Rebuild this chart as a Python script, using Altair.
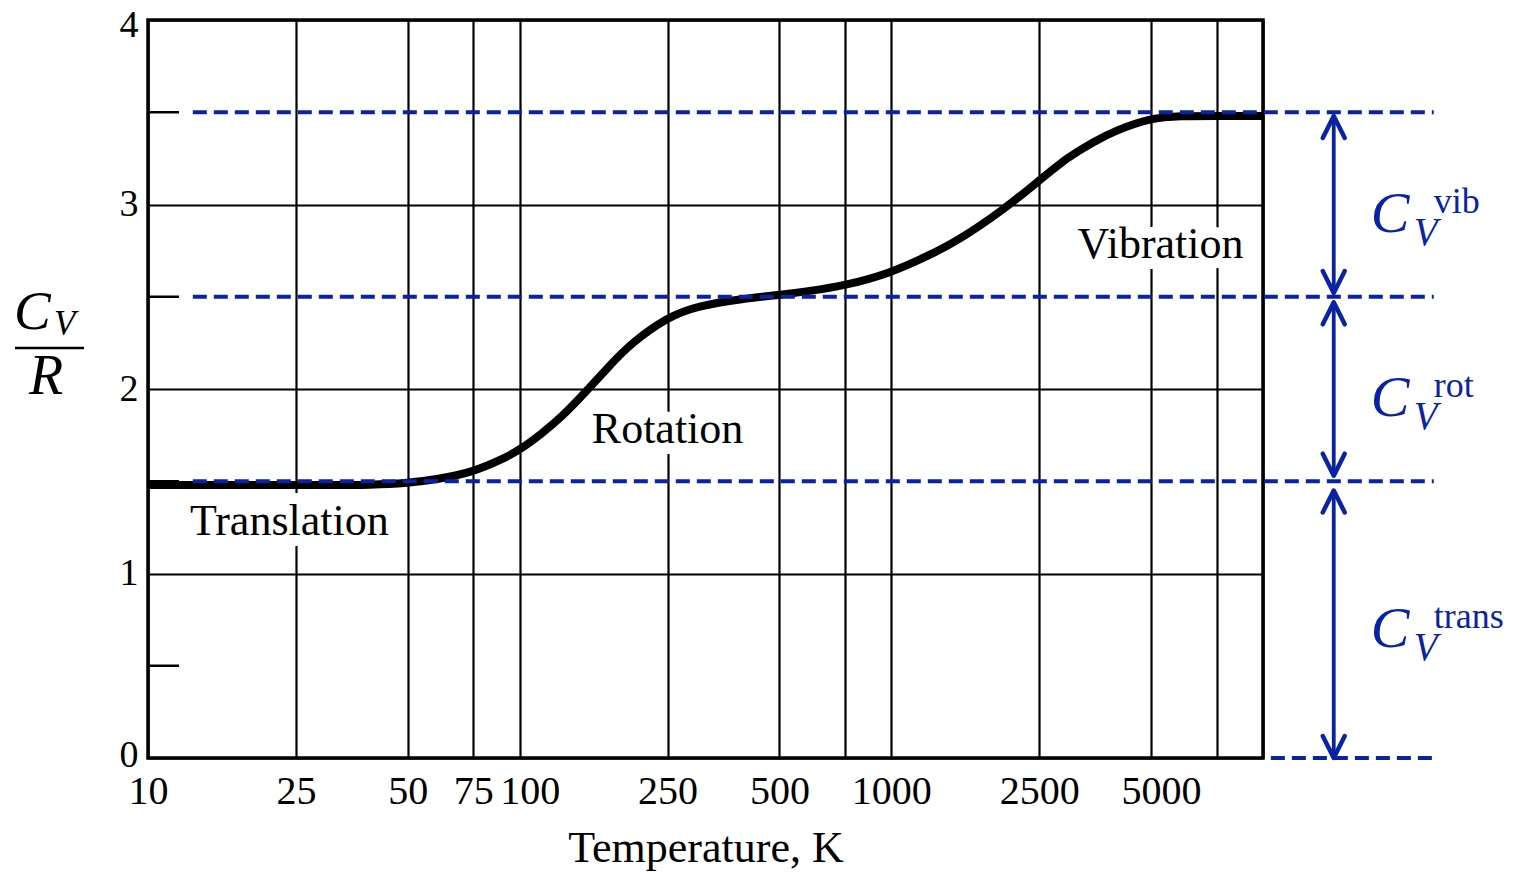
import altair as alt
import pandas as pd

# ---- data ----
temps = [10, 20, 30, 40, 50, 60, 75, 90, 100, 115, 130, 150, 175, 200, 250, 300,
         400, 500, 600, 750, 1000, 1250, 1500, 2000, 2500, 3000, 3500, 4000,
         5000, 6000, 7500, 10000]
cv_r = [1.48, 1.48, 1.48, 1.48, 1.49, 1.51, 1.55, 1.62, 1.67, 1.76, 1.85, 1.98,
        2.13, 2.25, 2.39, 2.45, 2.49, 2.51, 2.53, 2.56, 2.63, 2.72, 2.80, 2.97,
        3.13, 3.26, 3.34, 3.40, 3.47, 3.48, 3.48, 3.48]

x_ticks = [10, 25, 50, 75, 100, 250, 500, 750, 1000, 2500, 5000, 7500, 10000]
y_ticks = [0, 1, 2, 3, 4]
y_minor = [0.5, 1.5, 2.5, 3.5]

levels = [3.5, 2.5, 1.5, 0.0]
level_start = [13.2, 13.2, 13.2, 10500]
level_end = [28800, 28800, 28800, 29500]

arrow_x = 15500
arrow_top = [3.48, 2.47, 1.45]
arrow_bottom = [2.52, 1.53, 0.0]
arrow_mid = [3.0, 2.0, 0.75]
arrow_sup = ["vib", "rot", "trans"]

region_names = ["Translation", "Rotation", "Vibration"]
region_x = [24, 250, 5300]
region_y = [1.21, 1.71, 2.71]

BLUE = "#0A23A2"
FONT = "Liberation Serif"

xs = alt.Scale(type="log", domain=[10, 10000], nice=False)
ys = alt.Scale(domain=[0, 4], nice=False, zero=False)

curve_df = pd.DataFrame({"T": temps, "cv": cv_r})
levels_df = pd.DataFrame({"y": levels, "x1": level_start, "x2": level_end})
arrows_df = pd.DataFrame({"x": [arrow_x] * 3, "top": arrow_top, "bottom": arrow_bottom,
                          "mid": arrow_mid, "sup": arrow_sup, "C": ["C"] * 3, "V": ["V"] * 3})
regions_df = pd.DataFrame({"x": region_x, "y": region_y, "name": region_names})
minor_df = pd.DataFrame({"y": y_minor})
one = pd.DataFrame({"a": [0]})

x_axis = alt.Axis(
    values=x_ticks, grid=True, gridColor="black", gridWidth=2.2, gridOpacity=1,
    ticks=False, domain=False,
    labelExpr="(datum.value == 750 || datum.value == 7500 || datum.value == 10000) ? '' : format(datum.value, 'd')",
    labelFont=FONT, labelFontSize=40, labelColor="black", labelPadding=13,
    labelOverlap=False, labelFlush=False,
    labelOffset={"condition": {"test": "datum.value == 100 || datum.value == 5000", "value": 10}, "value": 0},
    title="Temperature, K", titleFont=FONT, titleFontSize=44, titleFontWeight="normal",
    titleColor="black", titlePadding=15,
)
y_axis = alt.Axis(
    values=y_ticks, grid=True, gridColor="black", gridWidth=2.2, gridOpacity=1,
    ticks=False, domain=False, labelFont=FONT, labelFontSize=38, labelColor="black",
    labelPadding=10, labelOverlap=False, labelFlush=False, title=None,
    labelOffset={"condition": [{"test": "datum.value == 0", "value": -3},
                               {"test": "datum.value == 4", "value": 5}],
                 "value": 0},
)


def X(field):
    return alt.X(field, type="quantitative", scale=xs, axis=x_axis)


def Y(field):
    return alt.Y(field, type="quantitative", scale=ys, axis=y_axis)


curve = alt.Chart(curve_df).mark_line(
    color="black", strokeWidth=8, interpolate="basis", strokeCap="butt"
).encode(x=X("T"), y=Y("cv"))

minor = alt.Chart(minor_df).mark_rule(color="black", strokeWidth=2.5).encode(
    x=alt.value(0), x2=alt.value(31), y=Y("y")
)

dashed = alt.Chart(levels_df).mark_rule(
    color=BLUE, strokeWidth=3.8, strokeDash=[14, 7], clip=False
).encode(x=X("x1"), x2="x2:Q", y=Y("y"))

shaft = alt.Chart(arrows_df).mark_rule(color=BLUE, strokeWidth=3.8, clip=False).encode(
    x=X("x"), y=Y("top"), y2="bottom:Q",
)
head_up = alt.Chart(arrows_df).mark_point(
    shape="M -1 2 L 0 0 L 1 2", size=484, filled=False, stroke=BLUE,
    strokeWidth=4.5, strokeCap="round", strokeJoin="round", opacity=1, clip=False
).encode(x=X("x"), y=Y("top"))
head_down = alt.Chart(arrows_df).mark_point(
    shape="M -1 -2 L 0 0 L 1 -2", size=484, filled=False, stroke=BLUE,
    strokeWidth=4.5, strokeCap="round", strokeJoin="round", opacity=1, clip=False
).encode(x=X("x"), y=Y("bottom"))

c_txt = alt.Chart(arrows_df).mark_text(
    font=FONT, fontStyle="italic", fontSize=58, color=BLUE, align="left",
    baseline="alphabetic", dx=37, dy=27, clip=False
).encode(x=X("x"), y=Y("mid"), text="C:N")
v_txt = alt.Chart(arrows_df).mark_text(
    font=FONT, fontStyle="italic", fontSize=39, color=BLUE, align="left",
    baseline="alphabetic", dx=80, dy=40, clip=False
).encode(x=X("x"), y=Y("mid"), text="V:N")
sup_txt = alt.Chart(arrows_df).mark_text(
    font=FONT, fontSize=36, color=BLUE, align="left",
    baseline="alphabetic", dx=100, dy=8, clip=False
).encode(x=X("x"), y=Y("mid"), text="sup:N")

region_halo = alt.Chart(regions_df).mark_text(
    font=FONT, fontSize=44, color="white", stroke="white", strokeWidth=22,
    strokeJoin="round", align="center", baseline="alphabetic"
).encode(x=X("x"), y=Y("y"), text="name:N")
region_txt = alt.Chart(regions_df).mark_text(
    font=FONT, fontSize=44, color="black", align="center", baseline="alphabetic"
).encode(x=X("x"), y=Y("y"), text="name:N")

# y title: C_V / R as a fraction
yt_c = alt.Chart(one).mark_text(
    text="C", font=FONT, fontStyle="italic", fontSize=55, color="black",
    align="left", baseline="alphabetic", clip=False
).encode(x=alt.value(-134), y=alt.value(309))
yt_v = alt.Chart(one).mark_text(
    text="V", font=FONT, fontStyle="italic", fontSize=35, color="black",
    align="left", baseline="alphabetic", clip=False
).encode(x=alt.value(-94), y=alt.value(315))
yt_line = alt.Chart(one).mark_rule(color="black", strokeWidth=2.5, clip=False).encode(
    x=alt.value(-133), x2=alt.value(-64), y=alt.value(328)
)
yt_r = alt.Chart(one).mark_text(
    text="R", font=FONT, fontStyle="italic", fontSize=56, color="black",
    align="left", baseline="alphabetic", clip=False
).encode(x=alt.value(-119), y=alt.value(374))

chart = alt.layer(
    curve, minor, region_halo, region_txt, dashed, shaft, head_up, head_down,
    c_txt, v_txt, sup_txt, yt_c, yt_v, yt_line, yt_r
).properties(
    width=1115, height=738,
    background="white",
    autosize=alt.AutoSizeParams(type="none"),
    padding={"left": 140, "top": 12, "right": 244, "bottom": 121},
).configure_view(
    stroke="black", strokeWidth=3.5
)

chart.save("out.html", embed_options={"renderer": "svg", "actions": False})
